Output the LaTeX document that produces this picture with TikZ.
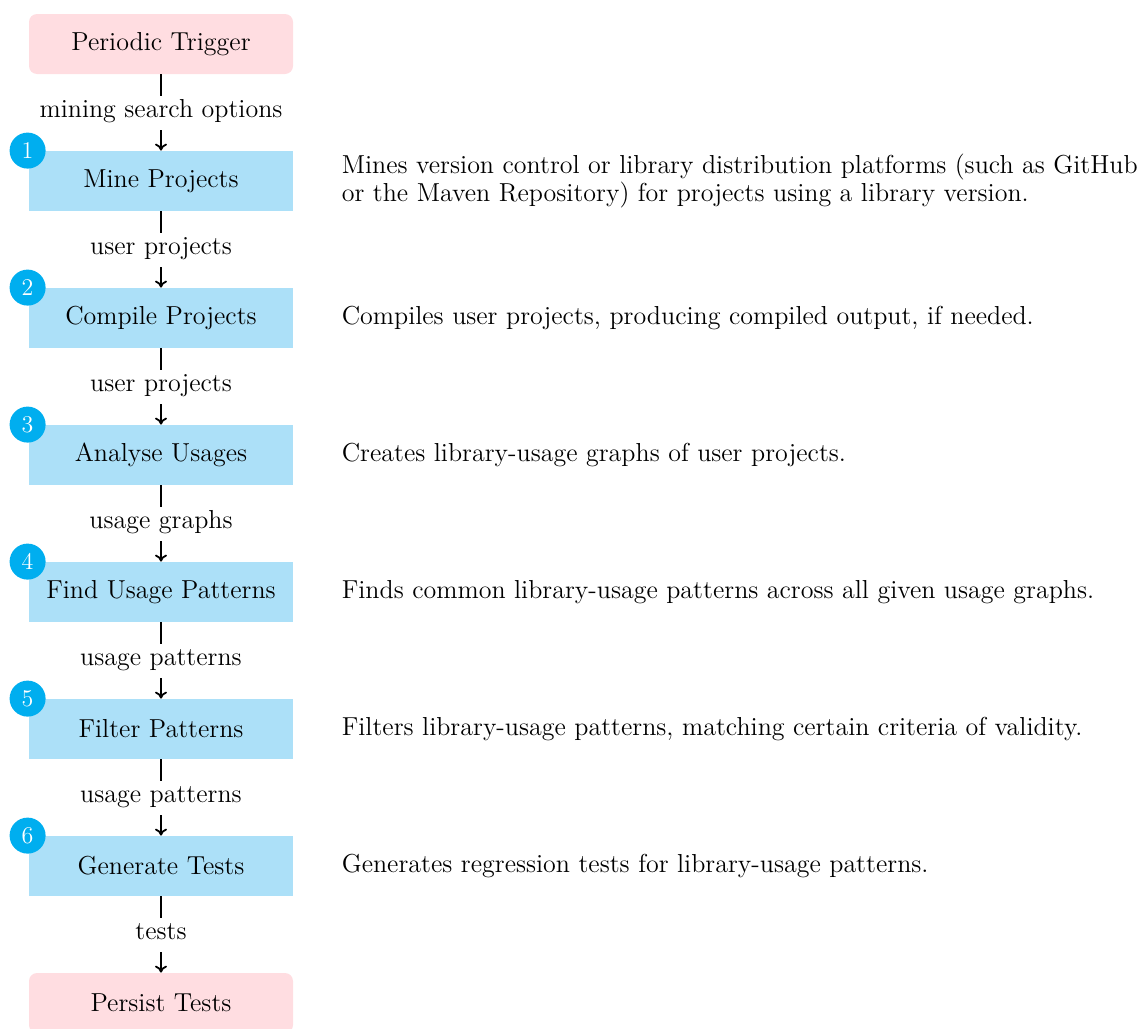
\documentclass[tikz,border=0pt]{standalone}
\usetikzlibrary{arrows.meta,positioning}
\definecolor{boxblue}{RGB}{172,224,248}
\definecolor{boxpink}{RGB}{255,221,225}
\definecolor{badgecyan}{RGB}{0,174,239}
\begin{document}
\begin{tikzpicture}[x=0.5pt,y=-0.5pt,
  font=\fontsize{13}{14}\selectfont,
  stepbox/.style={fill=boxblue, minimum width=132pt, minimum height=30pt, inner sep=0pt},
  endbox/.style={fill=boxpink, rounded corners=4pt, minimum width=132pt, minimum height=30pt, inner sep=0pt},
  lbl/.style={fill=white, inner sep=0pt, text height=11pt, text depth=6pt},
  flow/.style={-{To[length=3.5pt,width=6pt]}, line width=0.9pt},
  badge/.style={circle, fill=badgecyan, text=white, minimum size=18pt, inner sep=0pt, font=\fontsize{12}{14}\selectfont},
  desc/.style={anchor=west, align=left, inner sep=0pt}]
\useasboundingbox (0,0) rectangle (1143,1028);

\node[endbox]  (trig) at (161,44)   {Periodic Trigger};
\node[stepbox] (mine) at (161,181)  {Mine Projects};
\node[stepbox] (comp) at (161,318)  {Compile Projects};
\node[stepbox] (anal) at (161,455)  {Analyse Usages};
\node[stepbox] (find) at (161,592)  {Find Usage Patterns};
\node[stepbox] (filt) at (161,729)  {Filter Patterns};
\node[stepbox] (gen)  at (161,866)  {Generate Tests};
\node[endbox]  (pers) at (161,1003) {Persist Tests};

\draw[flow] (trig) -- node[lbl] {mining search options} (mine);
\draw[flow] (mine) -- node[lbl] {user projects} (comp);
\draw[flow] (comp) -- node[lbl] {user projects} (anal);
\draw[flow] (anal) -- node[lbl] {usage graphs} (find);
\draw[flow] (find) -- node[lbl] {usage patterns} (filt);
\draw[flow] (filt) -- node[lbl] {usage patterns} (gen);
\draw[flow] (gen)  -- node[lbl] {tests} (pers);

\node[badge] (b1) at ([xshift=-0.5pt]mine.north west) {1};
\node[badge] (b2) at ([xshift=-0.5pt]comp.north west) {2};
\node[badge] (b3) at ([xshift=-0.5pt]anal.north west) {3};
\node[badge] (b4) at ([xshift=-0.5pt]find.north west) {4};
\node[badge] (b5) at ([xshift=-0.5pt]filt.north west) {5};
\node[badge] (b6) at ([xshift=-0.5pt]gen.north west)  {6};

\node[desc, right=24pt of mine] (d1) {Mines version control or library distribution platforms (such as GitHub\\or the Maven Repository) for projects using a library version.};
\node[desc, right=24pt of comp] (d2) {Compiles user projects, producing compiled output, if needed.};
\node[desc, right=24pt of anal] (d3) {Creates library-usage graphs of user projects.};
\node[desc, right=24pt of find] (d4) {Finds common library-usage patterns across all given usage graphs.};
\node[desc, right=24pt of filt] (d5) {Filters library-usage patterns, matching certain criteria of validity.};
\node[desc, right=24pt of gen]  (d6) {Generates regression tests for library-usage patterns.};
\end{tikzpicture}
\end{document}
